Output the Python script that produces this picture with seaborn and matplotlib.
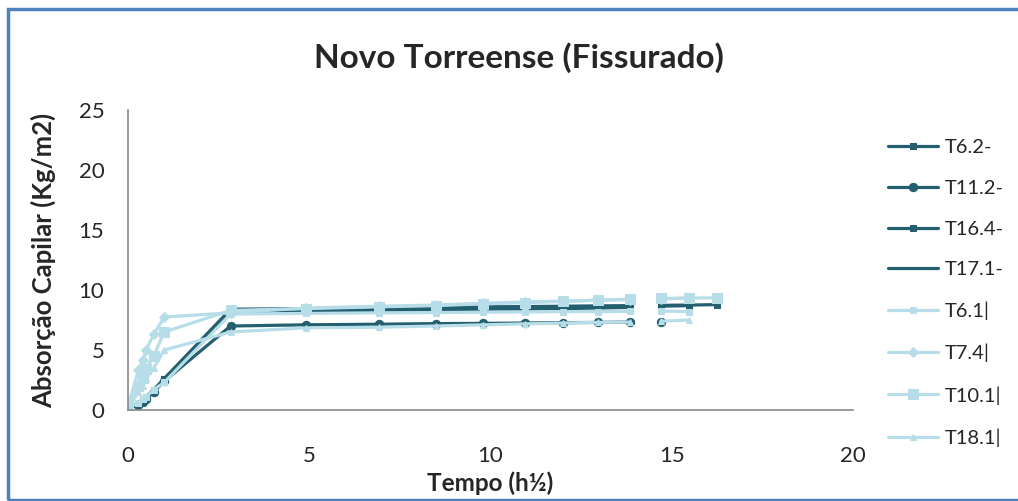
import numpy as np
import pandas as pd
import matplotlib
matplotlib.use("Agg")
import matplotlib.pyplot as plt
import seaborn as sns
from matplotlib.patches import Rectangle

# ---- data ----
tempo = [0, 0.29, 0.41, 0.5, 0.71, 1.0, 2.83, 4.9, 6.93, 8.49, 9.8, 10.95,
         12.0, 12.96, 13.86, 14.28, 14.7, 15.49, 16.25]
nan = np.nan
T6_2 = [0.2, 0.5, 0.8, 1.0, 1.6, 2.6, 8.4, 8.45, 8.5, 8.55, 8.6, 8.62, 8.65, 8.68, 8.7, nan, 8.72, 8.75, 8.78]
T11_2 = [0.2, 0.4, 0.7, 0.9, 1.5, 2.4, 7.0, 7.1, 7.15, 7.2, 7.22, 7.25, 7.28, 7.3, 7.33, nan, 7.35, nan, nan]
T16_4 = [0.2, 0.5, 0.8, 1.1, 1.7, 2.6, 8.3, 8.35, 8.4, 8.45, 8.5, 8.52, 8.55, 8.58, 8.6, nan, 8.65, 8.7, nan]
T17_1 = [0.2, 0.4, 0.7, 1.0, 1.6, 2.5, 8.2, 8.25, 8.3, 8.35, 8.4, 8.42, 8.45, 8.5, 8.55, nan, 8.6, nan, nan]
T6_1 = [0.2, 0.6, 0.9, 1.1, 1.7, 2.3, 8.0, 8.05, 8.1, 8.12, 8.15, 8.17, 8.2, 8.2, 8.22, nan, 8.25, 8.2, nan]
T7_4 = [0.3, 3.3, 4.2, 5.0, 6.3, 7.75, 8.1, 8.5, 8.65, 8.75, 8.9, 9.0, 9.08, 9.15, 9.2, nan, 9.25, 9.33, nan]
T10_1 = [0.3, 2.0, 2.7, 3.4, 4.5, 6.5, 8.3, 8.45, 8.6, 8.7, 8.85, 8.95, 9.05, 9.15, 9.25, nan, 9.3, 9.33, 9.35]
T18_1 = [0.2, 1.5, 2.0, 2.6, 3.5, 5.0, 6.5, 6.85, 6.9, 7.0, 7.1, 7.18, 7.25, 7.3, 7.33, nan, 7.4, 7.5, nan]

labels = ["T6.2-", "T11.2-", "T16.4-", "T17.1-", "T6.1|", "T7.4|", "T10.1|", "T18.1|"]
series = [T6_2, T11_2, T16_4, T17_1, T6_1, T7_4, T10_1, T18_1]

dark = "#245F6F"
light = "#B7DEE8"
colors = [dark, dark, dark, dark, light, light, light, light]
markers = ["s", "o", "s", "_", "s", "D", "s", "^"]
msizes = [5, 6, 5, 5, 5, 5, 7, 5]

sns.set_theme(style="white")
plt.rcParams["font.family"] = ["Lato", "DejaVu Sans"]

fig = plt.figure(figsize=(10.18, 5.01), dpi=100)
ax = fig.add_axes([0.1257, 0.1816, 0.7122, 0.5988])

for lab, vals, c, m, ms in zip(labels, series, colors, markers, msizes):
    df = pd.DataFrame({"t": tempo, "v": vals})
    df["seg"] = df["v"].isna().cumsum()   # break line where data are missing
    df = df.dropna()
    sns.lineplot(data=df, x="t", y="v", units="seg", ax=ax, color=c, marker=m,
                 markersize=ms, markeredgecolor=c, linewidth=2.3, estimator=None,
                 sort=False, label=lab)

ax.set_xlim(0, 20)
ax.set_ylim(0, 25)
ax.set_xticks([0, 5, 10, 15, 20])
ax.set_yticks([0, 5, 10, 15, 20, 25])
ax.tick_params(axis="x", labelsize=16, length=0, pad=26)
ax.tick_params(axis="y", labelsize=16, length=0, pad=17)
for s in ["top", "right"]:
    ax.spines[s].set_visible(False)
for s in ["left", "bottom"]:
    ax.spines[s].set_color("#888888")
    ax.spines[s].set_linewidth(1.2)
ax.set_xlabel("Tempo (h½)", fontsize=17.5, fontweight="bold", labelpad=4)
ax.set_ylabel("Absorção Capilar (Kg/m2)", fontsize=18.5, fontweight="bold", labelpad=16)
ax.grid(False)

fig.text(0.51, 0.886, "Novo Torreense (Fissurado)", fontsize=24, fontweight="bold",
         ha="center", va="center")

h, l = ax.get_legend_handles_labels()
uniq = dict(zip(l, h))
ax.legend([uniq[k] for k in labels], labels, loc="upper left", bbox_to_anchor=(0.872, 0.722),
          bbox_transform=fig.transFigure, frameon=False, fontsize=14.5, handlelength=2.5,
          labelspacing=1.17, handletextpad=0.35, borderaxespad=0, borderpad=0)

fig.patches.append(Rectangle((0.0079, 0.0015), 1.2, 0.9815, transform=fig.transFigure,
                             fill=False, edgecolor="#4F81BD", linewidth=2.5, clip_on=True))

fig.savefig("out.png", dpi=100)
